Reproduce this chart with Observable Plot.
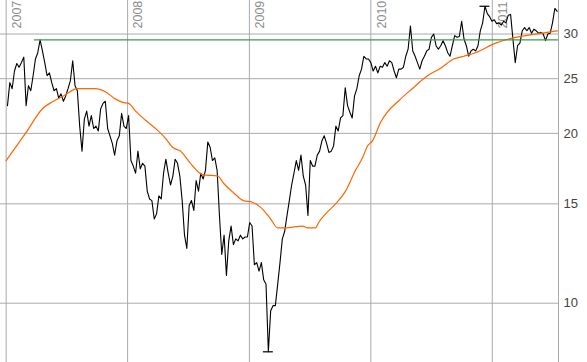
<!DOCTYPE html>
<html><head><meta charset="utf-8">
<script src="https://cdn.jsdelivr.net/npm/d3@7"></script>
<script src="https://cdn.jsdelivr.net/npm/@observablehq/plot@0.6"></script>
<style>body{margin:0;background:#fff}</style>
</head><body><div id="chart"></div>
<script>
// weekly closing prices, first week ending
const firstWeek = "2007-01-05";
const prices = [
22.4, 24.6, 24.0, 25.8, 26.6, 26.2, 26.7, 27.3, 22.4, 24.3,
23.8, 25.3, 27.1, 27.8, 29.3, 28.0, 26.7, 25.3, 25.6, 24.6,
23.8, 24.0, 23.1, 23.5, 22.8, 23.3, 24.0, 24.8, 26.9, 24.3,
23.8, 20.6, 18.6, 21.2, 21.9, 20.6, 21.5, 20.4, 20.6, 20.2,
22.1, 22.6, 22.8, 20.4, 19.8, 19.2, 18.3, 19.4, 19.8, 21.7,
20.6, 20.4, 21.5, 17.9, 17.5, 17.0, 18.6, 17.3, 17.7, 17.5,
15.8, 15.3, 15.2, 14.1, 14.4, 15.5, 15.3, 17.0, 18.0, 17.0,
16.2, 16.8, 18.0, 17.7, 16.8, 15.2, 13.2, 12.5, 14.9, 15.2,
14.6, 16.5, 15.8, 17.0, 16.6, 17.2, 19.3, 18.9, 17.9, 18.1,
17.2, 14.3, 12.2, 13.2, 11.2, 12.9, 13.7, 12.7, 13.0, 12.9,
13.2, 13.0, 13.1, 13.1, 13.9, 13.7, 11.7, 11.8, 11.4, 11.8,
11.0, 10.8, 8.2, 9.7, 9.9, 9.9, 10.8, 11.8, 13.0, 13.4,
14.3, 15.2, 16.2, 17.0, 17.9, 17.2, 18.3, 16.8, 16.2, 14.3,
17.9, 17.5, 17.5, 18.3, 18.6, 19.4, 19.8, 19.2, 18.5, 18.6,
19.0, 20.6, 20.2, 21.3, 21.5, 24.1, 22.4, 21.8, 21.3, 23.3,
24.0, 25.3, 26.0, 27.4, 27.1, 27.1, 26.7, 25.8, 26.3, 25.6,
26.3, 26.2, 26.7, 26.3, 26.9, 26.7, 25.8, 25.1, 26.0, 26.0,
26.2, 27.4, 28.2, 31.0, 28.0, 27.4, 26.7, 26.0, 26.9, 27.4,
28.0, 28.2, 29.6, 30.0, 28.6, 28.2, 28.6, 29.2, 28.6, 27.8,
27.4, 28.6, 29.8, 29.6, 29.7, 31.6, 29.4, 28.6, 27.4, 28.0,
28.2, 28.0, 28.6, 30.4, 31.4, 33.6, 32.6, 32.2, 31.6, 31.8,
31.3, 31.4, 31.1, 31.6, 31.4, 32.4, 32.5, 29.4, 26.7, 28.6,
28.9, 30.4, 30.8, 30.4, 30.8, 30.1, 30.6, 30.4, 30.1, 30.2,
30.0, 29.2, 30.0, 30.1, 31.4, 33.3, 32.9
];
// 200-day moving average
const maDates = ["2007-01-01","2007-02-28","2007-04-23","2007-05-23","2007-06-22","2007-08-03","2007-09-26","2007-10-26","2007-11-26","2007-12-17",
"2008-01-04","2008-01-25","2008-02-24","2008-03-25","2008-04-24","2008-05-15","2008-06-08","2008-07-08","2008-08-13","2008-09-28","2008-10-16","2008-11-14","2008-12-14",
"2009-01-10","2009-02-03","2009-03-06","2009-03-27","2009-04-20","2009-06-10","2009-06-25","2009-07-19","2009-07-28","2009-08-18","2009-09-17","2009-10-17","2009-11-16","2009-12-07","2009-12-22",
"2010-01-06","2010-01-30","2010-03-31","2010-05-09","2010-06-20","2010-07-30","2010-09-07","2010-10-07","2010-11-12",
"2011-01-11","2011-02-19","2011-04-11","2011-05-31","2011-07-16"];
const maValues = [17.9,20.0,22.2,22.8,23.3,24.0,24.0,23.7,23.0,22.7,
22.6,21.9,21.1,20.4,19.6,18.9,18.6,17.7,16.9,16.8,16.3,15.7,15.2,
15.1,14.8,14.1,13.6,13.6,13.7,13.6,13.6,13.9,14.4,15.0,15.8,17.2,18.1,19.0,
19.4,20.9,23.0,24.1,25.3,26.1,27.1,27.4,27.8,
28.9,29.4,29.8,30.1,30.4];
const years = [2007, 2008, 2009, 2010, 2011];
const yTicks = [10, 15, 20, 25, 30];
const resistanceLevel = 29.3;
const resistanceFrom = "2007-03-27";
const xStart = "2006-12-15", xEnd = "2011-07-19";

const t0 = new Date(firstWeek);
const priceData = prices.map((v, i) => ({date: d3.utcDay.offset(t0, 7 * i), value: v}));
const maData = maDates.map((d, i) => ({date: new Date(d), value: maValues[i]}));
const hi = d3.greatest(priceData, d => d.value);
const lo = d3.least(priceData, d => d.value);
const yearDate = y => new Date(Date.UTC(y, 0, 1));
const xDomain = [new Date(xStart), new Date(xEnd)];

const chart = Plot.plot({
  width: 587, height: 362,
  marginLeft: 0, marginRight: 29, marginTop: 0, marginBottom: 0,
  style: {fontFamily: "'Liberation Sans', Arial, sans-serif", background: "#fff"},
  x: {type: "utc", domain: xDomain, axis: null},
  y: {type: "log", domain: [7.85, 34.4], axis: null},
  marks: [
    Plot.ruleY(yTicks, {stroke: "#aaa", strokeWidth: 1}),
    Plot.ruleX(years, {x: yearDate, stroke: "#aaa", strokeWidth: 1}),
    Plot.ruleX([xDomain[1]], {stroke: "#aaa", strokeWidth: 1}),
    Plot.text(years, {x: yearDate, text: d => String(d), frameAnchor: "top", dy: 28, dx: 6,
      rotate: -90, textAnchor: "start", fill: "#8c8c8c", fontSize: 12.5}),
    Plot.text(yTicks, {y: d => d, text: d => String(d), frameAnchor: "right", dx: 5,
      textAnchor: "start", fill: "#444", fontSize: 13}),
    Plot.line(priceData, {x: "date", y: "value", stroke: "#000", strokeWidth: 1.1}),
    Plot.line(maData, {x: "date", y: "value", stroke: "#ff6600", strokeWidth: 1.2, curve: "monotone-x"}),
    Plot.ruleY([resistanceLevel], {x1: new Date(resistanceFrom), x2: xDomain[1], stroke: "#3a9a48", strokeWidth: 1.3}),
    Plot.ruleY([hi, lo], {y: "value", x1: d => d3.utcDay.offset(d.date, -15), x2: d => d3.utcDay.offset(d.date, 15),
      stroke: "#000", strokeWidth: 1.2})
  ]
});
document.getElementById("chart").append(chart);
</script>
</body></html>
